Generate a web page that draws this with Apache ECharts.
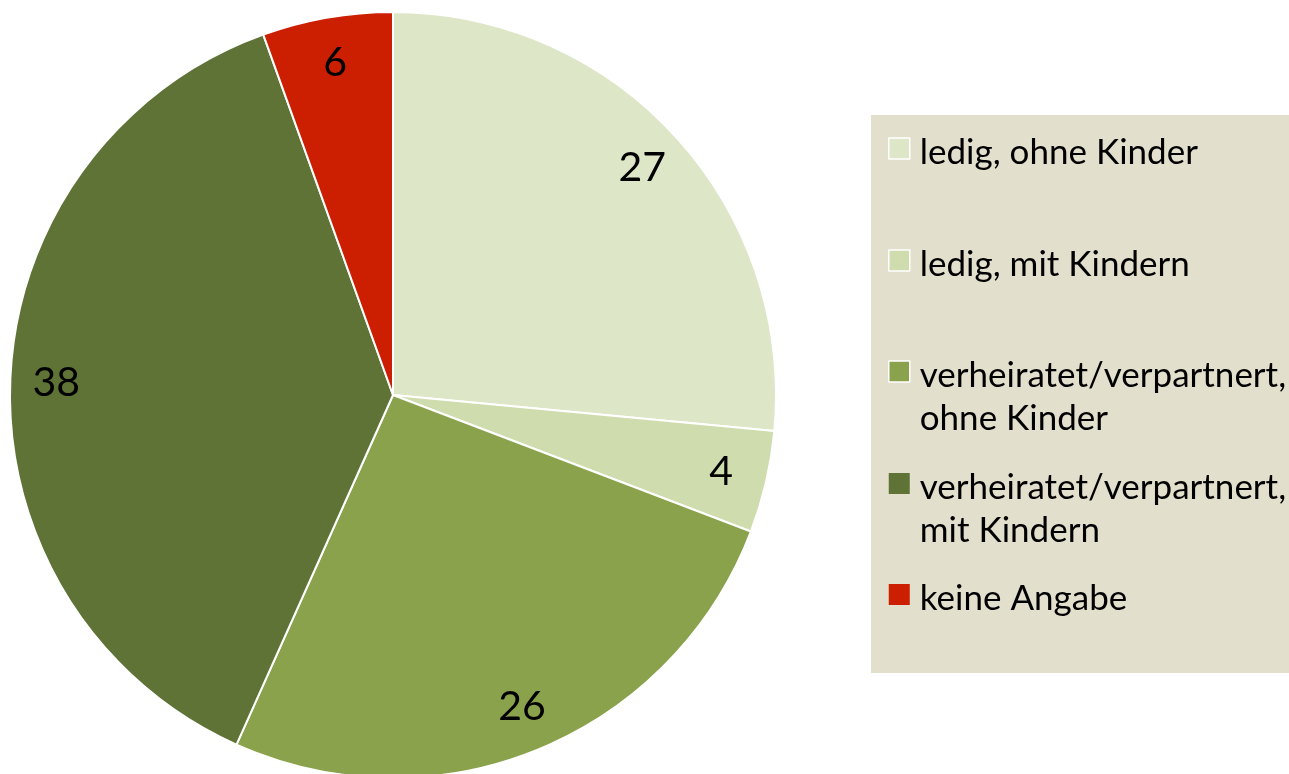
<!DOCTYPE html>
<html>
<head>
<meta charset="utf-8">
<script src="https://cdn.jsdelivr.net/npm/echarts@6/dist/echarts.min.js"></script>
<style>
    html, body { margin: 0; padding: 0; background: #fff; }
    #chart { width: 1289px; height: 774px; }
</style>
</head>
<body>
<div id="chart"></div>
<script>
const categories = [
    'ledig, ohne Kinder',
    'ledig, mit Kindern',
    'verheiratet/verpartnert, ohne Kinder',
    'verheiratet/verpartnert, mit Kindern',
    'keine Angabe'
];
// shares; labels show them rounded
const values = [26.5, 4.3, 25.9, 37.8, 5.5];
const colors = ['#dee6c8', '#cfdcae', '#8ba24c', '#5f7336', '#cc1e00'];

const legendIconTops = [138, 250, 361, 473, 584];
const iconBorder = ['#fff', '#fff', '#fff', 'transparent', 'transparent'];

const ICON = 21;
const DROP = 8;       // text sits a little lower than the square
const LINE_H = 43;

const chart = echarts.init(document.getElementById('chart'));

const pieData = categories.map((name, i) => ({
    name: name,
    value: values[i],
    itemStyle: { color: colors[i] }
}));

// two-line names get an empty first line so the icon sits beside the first text line
const wrap = n => n.indexOf('verpartnert, ') >= 0
    ? '\n' + n.replace('verpartnert, ', 'verpartnert,\n')
    : n;

// square at the top of a taller item box (the lone move-to stretches the box)
const squareIcon = 'path://M0,0h' + ICON + 'v' + ICON + 'h-' + ICON + 'zM' + ICON + ',' + (ICON + DROP);

const legends = categories.map((name, i) => {
    const lines = wrap(name).split('\n').length;
    const boxH = lines * LINE_H;
    return {
        data: [name],
        left: 888,
        top: legendIconTops[i] - (boxH / 2 - (ICON + DROP) / 2),
        padding: 0,
        icon: squareIcon,
        itemWidth: ICON,
        itemHeight: ICON + DROP,
        selectedMode: false,
        itemStyle: { borderColor: iconBorder[i], borderWidth: 1.5 },
        formatter: wrap,
        textStyle: {
            fontFamily: 'Lato',
            fontSize: 35,
            color: '#000',
            lineHeight: LINE_H,
            padding: [0, 0, 0, 5]
        }
    };
});

chart.setOption({
    animation: false,
    graphic: [{
        type: 'rect',
        left: 871,
        top: 115,
        shape: { width: 418, height: 558 },
        style: { fill: '#e2dfcc' },
        z: -1
    }],
    legend: legends,
    series: [
        {
            type: 'pie',
            center: [393, 395],
            radius: [0, 383],
            startAngle: 90,
            clockwise: true,
            label: { show: false },
            labelLine: { show: false },
            itemStyle: { borderColor: '#fff', borderWidth: 2 },
            emphasis: { disabled: true },
            data: pieData
        },
        {
            // transparent ring, only carries the value labels
            type: 'pie',
            center: [393, 395],
            radius: [285, 383],
            startAngle: 90,
            clockwise: true,
            silent: true,
            itemStyle: { color: 'transparent' },
            label: {
                show: true,
                position: 'inside',
                formatter: p => Math.round(p.value),
                fontFamily: 'Lato',
                fontSize: 41,
                color: '#000'
            },
            labelLine: { show: false },
            emphasis: { disabled: true },
            data: categories.map((name, i) => ({ name: name, value: values[i] }))
        }
    ]
});
</script>
</body>
</html>
